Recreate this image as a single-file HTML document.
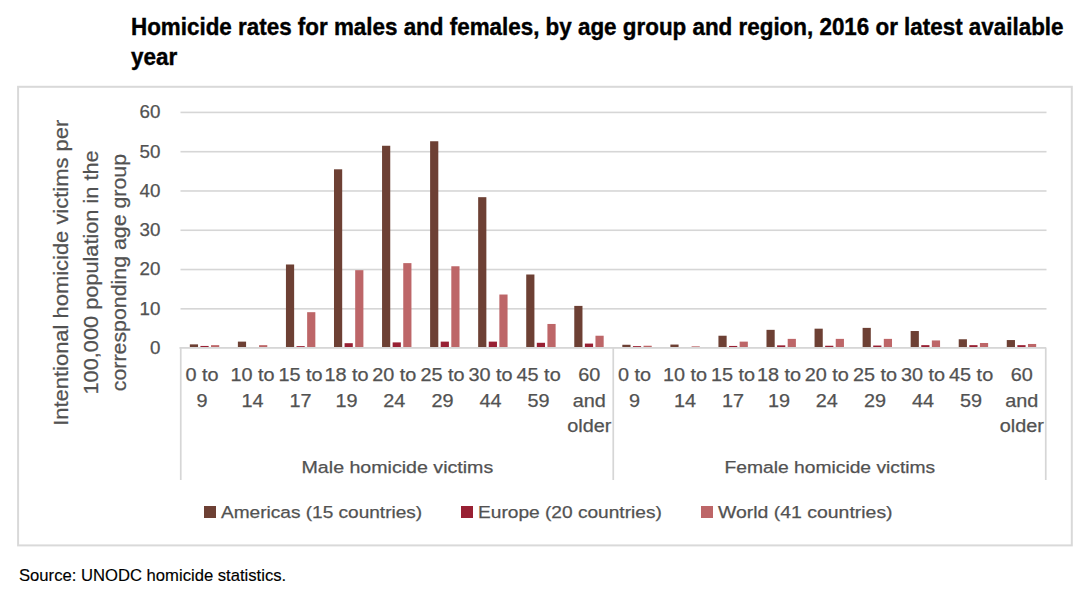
<!DOCTYPE html>
<html><head><meta charset="utf-8"><title>Homicide rates chart</title>
<style>
html,body{margin:0;padding:0;background:#fff;}
body{width:1086px;height:603px;overflow:hidden;position:relative;}
svg{position:absolute;left:0;top:0;}
text{font-family:"Liberation Sans",Arial,sans-serif;}
.ax{font-size:18.3px;fill:#525252;stroke:#525252;stroke-width:0.25px;}
.ttl{font-size:23.2px;font-weight:bold;fill:#000;stroke:#000;stroke-width:0.4px;}
.tk{font-size:18.8px;}
.lg{font-size:17.4px;fill:#525252;stroke:#525252;stroke-width:0.25px;}
.yt{font-size:20.5px;fill:#525252;stroke:#525252;stroke-width:0.25px;}
.src{font-size:17px;fill:#000;stroke:#000;stroke-width:0.15px;}
</style></head><body>
<svg width="1086" height="603" viewBox="0 0 1086 603">
<rect x="0" y="0" width="1086" height="603" fill="#fff"/>
<text class="ttl" x="131" y="35.1" textLength="932.5" lengthAdjust="spacingAndGlyphs">Homicide rates for males and females, by age group and region, 2016 or latest available</text>
<text class="ttl" x="131" y="65.3" textLength="46.2" lengthAdjust="spacingAndGlyphs">year</text>
<rect x="18.1" y="86.8" width="1053.7" height="458.6" fill="none" stroke="#d9d9d9" stroke-width="2"/>
<rect x="180.50" y="308.02" width="866.00" height="1.6" fill="#d6d6d6"/>
<rect x="180.50" y="268.74" width="866.00" height="1.6" fill="#d6d6d6"/>
<rect x="180.50" y="229.46" width="866.00" height="1.6" fill="#d6d6d6"/>
<rect x="180.50" y="190.18" width="866.00" height="1.6" fill="#d6d6d6"/>
<rect x="180.50" y="150.90" width="866.00" height="1.6" fill="#d6d6d6"/>
<rect x="180.50" y="111.62" width="866.00" height="1.6" fill="#d6d6d6"/>
<rect x="189.83" y="344.37" width="8.2" height="3.53" fill="#6d4034"/>
<rect x="200.43" y="345.94" width="8.2" height="1.96" fill="#982033"/>
<rect x="211.03" y="345.15" width="8.2" height="2.75" fill="#bd6668"/>
<rect x="237.88" y="341.62" width="8.2" height="6.28" fill="#6d4034"/>
<rect x="259.08" y="345.15" width="8.2" height="2.75" fill="#bd6668"/>
<rect x="285.94" y="264.49" width="8.2" height="83.41" fill="#6d4034"/>
<rect x="296.54" y="346.13" width="8.2" height="1.77" fill="#982033"/>
<rect x="307.14" y="312.18" width="8.2" height="35.72" fill="#bd6668"/>
<rect x="333.99" y="169.31" width="8.2" height="178.59" fill="#6d4034"/>
<rect x="344.59" y="343.19" width="8.2" height="4.71" fill="#982033"/>
<rect x="355.19" y="270.18" width="8.2" height="77.72" fill="#bd6668"/>
<rect x="382.05" y="145.76" width="8.2" height="202.14" fill="#6d4034"/>
<rect x="392.65" y="342.40" width="8.2" height="5.49" fill="#982033"/>
<rect x="403.25" y="263.12" width="8.2" height="84.78" fill="#bd6668"/>
<rect x="430.11" y="141.25" width="8.2" height="206.65" fill="#6d4034"/>
<rect x="440.71" y="341.62" width="8.2" height="6.28" fill="#982033"/>
<rect x="451.31" y="266.26" width="8.2" height="81.64" fill="#bd6668"/>
<rect x="478.16" y="197.18" width="8.2" height="150.72" fill="#6d4034"/>
<rect x="488.76" y="341.62" width="8.2" height="6.28" fill="#982033"/>
<rect x="499.36" y="294.52" width="8.2" height="53.38" fill="#bd6668"/>
<rect x="526.22" y="274.50" width="8.2" height="73.40" fill="#6d4034"/>
<rect x="536.82" y="342.80" width="8.2" height="5.10" fill="#982033"/>
<rect x="547.42" y="323.96" width="8.2" height="23.94" fill="#bd6668"/>
<rect x="574.27" y="305.90" width="8.2" height="42.00" fill="#6d4034"/>
<rect x="584.87" y="343.58" width="8.2" height="4.32" fill="#982033"/>
<rect x="595.47" y="335.73" width="8.2" height="12.17" fill="#bd6668"/>
<rect x="622.33" y="344.76" width="8.2" height="3.14" fill="#6d4034"/>
<rect x="632.93" y="346.13" width="8.2" height="1.77" fill="#982033"/>
<rect x="643.53" y="345.74" width="8.2" height="2.16" fill="#bd6668"/>
<rect x="670.38" y="344.56" width="8.2" height="3.34" fill="#6d4034"/>
<rect x="691.58" y="346.33" width="8.2" height="1.57" fill="#bd6668"/>
<rect x="718.44" y="335.73" width="8.2" height="12.17" fill="#6d4034"/>
<rect x="729.04" y="345.94" width="8.2" height="1.96" fill="#982033"/>
<rect x="739.64" y="341.62" width="8.2" height="6.28" fill="#bd6668"/>
<rect x="766.49" y="329.84" width="8.2" height="18.05" fill="#6d4034"/>
<rect x="777.09" y="345.35" width="8.2" height="2.55" fill="#982033"/>
<rect x="787.69" y="338.87" width="8.2" height="9.03" fill="#bd6668"/>
<rect x="814.55" y="328.67" width="8.2" height="19.23" fill="#6d4034"/>
<rect x="825.15" y="345.74" width="8.2" height="2.16" fill="#982033"/>
<rect x="835.75" y="338.87" width="8.2" height="9.03" fill="#bd6668"/>
<rect x="862.61" y="327.88" width="8.2" height="20.02" fill="#6d4034"/>
<rect x="873.21" y="345.54" width="8.2" height="2.35" fill="#982033"/>
<rect x="883.81" y="338.87" width="8.2" height="9.03" fill="#bd6668"/>
<rect x="910.66" y="331.02" width="8.2" height="16.88" fill="#6d4034"/>
<rect x="921.26" y="345.15" width="8.2" height="2.75" fill="#982033"/>
<rect x="931.86" y="340.44" width="8.2" height="7.46" fill="#bd6668"/>
<rect x="958.72" y="339.26" width="8.2" height="8.63" fill="#6d4034"/>
<rect x="969.32" y="345.15" width="8.2" height="2.75" fill="#982033"/>
<rect x="979.92" y="342.99" width="8.2" height="4.91" fill="#bd6668"/>
<rect x="1006.77" y="340.05" width="8.2" height="7.85" fill="#6d4034"/>
<rect x="1017.37" y="345.15" width="8.2" height="2.75" fill="#982033"/>
<rect x="1027.97" y="343.97" width="8.2" height="3.92" fill="#bd6668"/>
<rect x="179.50" y="347.00" width="866.50" height="1.8" fill="#d6d6d6"/>
<rect x="179.90" y="347.50" width="1.7" height="132.50" fill="#d6d6d6"/>
<rect x="612.40" y="347.50" width="1.7" height="132.50" fill="#d6d6d6"/>
<rect x="1044.90" y="347.50" width="1.7" height="132.50" fill="#d6d6d6"/>
<text x="160.4" y="354.05" text-anchor="end" class="ax tk">0</text>
<text x="160.4" y="314.77" text-anchor="end" class="ax tk">10</text>
<text x="160.4" y="275.49" text-anchor="end" class="ax tk">20</text>
<text x="160.4" y="236.21" text-anchor="end" class="ax tk">30</text>
<text x="160.4" y="196.93" text-anchor="end" class="ax tk">40</text>
<text x="160.4" y="157.65" text-anchor="end" class="ax tk">50</text>
<text x="160.4" y="118.37" text-anchor="end" class="ax tk">60</text>
<text x="202.03" y="380.80" text-anchor="middle" class="ax" textLength="33.09" lengthAdjust="spacingAndGlyphs">0 to</text>
<text x="202.03" y="406.50" text-anchor="middle" class="ax" textLength="11.04" lengthAdjust="spacingAndGlyphs">9</text>
<text x="252.58" y="380.80" text-anchor="middle" class="ax" textLength="44.13" lengthAdjust="spacingAndGlyphs">10 to</text>
<text x="252.58" y="406.50" text-anchor="middle" class="ax" textLength="22.07" lengthAdjust="spacingAndGlyphs">14</text>
<text x="300.44" y="380.80" text-anchor="middle" class="ax" textLength="44.13" lengthAdjust="spacingAndGlyphs">15 to</text>
<text x="300.44" y="406.50" text-anchor="middle" class="ax" textLength="22.07" lengthAdjust="spacingAndGlyphs">17</text>
<text x="346.49" y="380.80" text-anchor="middle" class="ax" textLength="44.13" lengthAdjust="spacingAndGlyphs">18 to</text>
<text x="346.49" y="406.50" text-anchor="middle" class="ax" textLength="22.07" lengthAdjust="spacingAndGlyphs">19</text>
<text x="394.35" y="380.80" text-anchor="middle" class="ax" textLength="44.13" lengthAdjust="spacingAndGlyphs">20 to</text>
<text x="394.35" y="406.50" text-anchor="middle" class="ax" textLength="22.07" lengthAdjust="spacingAndGlyphs">24</text>
<text x="442.61" y="380.80" text-anchor="middle" class="ax" textLength="44.13" lengthAdjust="spacingAndGlyphs">25 to</text>
<text x="442.61" y="406.50" text-anchor="middle" class="ax" textLength="22.07" lengthAdjust="spacingAndGlyphs">29</text>
<text x="490.56" y="380.80" text-anchor="middle" class="ax" textLength="44.13" lengthAdjust="spacingAndGlyphs">30 to</text>
<text x="490.56" y="406.50" text-anchor="middle" class="ax" textLength="22.07" lengthAdjust="spacingAndGlyphs">44</text>
<text x="538.62" y="380.80" text-anchor="middle" class="ax" textLength="44.13" lengthAdjust="spacingAndGlyphs">45 to</text>
<text x="538.62" y="406.50" text-anchor="middle" class="ax" textLength="22.07" lengthAdjust="spacingAndGlyphs">59</text>
<text x="589.27" y="380.80" text-anchor="middle" class="ax" textLength="22.07" lengthAdjust="spacingAndGlyphs">60</text>
<text x="589.27" y="406.50" text-anchor="middle" class="ax" textLength="33.11" lengthAdjust="spacingAndGlyphs">and</text>
<text x="589.27" y="432.20" text-anchor="middle" class="ax" textLength="44.11" lengthAdjust="spacingAndGlyphs">older</text>
<text x="634.53" y="380.80" text-anchor="middle" class="ax" textLength="33.09" lengthAdjust="spacingAndGlyphs">0 to</text>
<text x="634.53" y="406.50" text-anchor="middle" class="ax" textLength="11.04" lengthAdjust="spacingAndGlyphs">9</text>
<text x="685.08" y="380.80" text-anchor="middle" class="ax" textLength="44.13" lengthAdjust="spacingAndGlyphs">10 to</text>
<text x="685.08" y="406.50" text-anchor="middle" class="ax" textLength="22.07" lengthAdjust="spacingAndGlyphs">14</text>
<text x="732.94" y="380.80" text-anchor="middle" class="ax" textLength="44.13" lengthAdjust="spacingAndGlyphs">15 to</text>
<text x="732.94" y="406.50" text-anchor="middle" class="ax" textLength="22.07" lengthAdjust="spacingAndGlyphs">17</text>
<text x="778.99" y="380.80" text-anchor="middle" class="ax" textLength="44.13" lengthAdjust="spacingAndGlyphs">18 to</text>
<text x="778.99" y="406.50" text-anchor="middle" class="ax" textLength="22.07" lengthAdjust="spacingAndGlyphs">19</text>
<text x="826.85" y="380.80" text-anchor="middle" class="ax" textLength="44.13" lengthAdjust="spacingAndGlyphs">20 to</text>
<text x="826.85" y="406.50" text-anchor="middle" class="ax" textLength="22.07" lengthAdjust="spacingAndGlyphs">24</text>
<text x="875.11" y="380.80" text-anchor="middle" class="ax" textLength="44.13" lengthAdjust="spacingAndGlyphs">25 to</text>
<text x="875.11" y="406.50" text-anchor="middle" class="ax" textLength="22.07" lengthAdjust="spacingAndGlyphs">29</text>
<text x="923.06" y="380.80" text-anchor="middle" class="ax" textLength="44.13" lengthAdjust="spacingAndGlyphs">30 to</text>
<text x="923.06" y="406.50" text-anchor="middle" class="ax" textLength="22.07" lengthAdjust="spacingAndGlyphs">44</text>
<text x="971.12" y="380.80" text-anchor="middle" class="ax" textLength="44.13" lengthAdjust="spacingAndGlyphs">45 to</text>
<text x="971.12" y="406.50" text-anchor="middle" class="ax" textLength="22.07" lengthAdjust="spacingAndGlyphs">59</text>
<text x="1021.77" y="380.80" text-anchor="middle" class="ax" textLength="22.07" lengthAdjust="spacingAndGlyphs">60</text>
<text x="1021.77" y="406.50" text-anchor="middle" class="ax" textLength="33.11" lengthAdjust="spacingAndGlyphs">and</text>
<text x="1021.77" y="432.20" text-anchor="middle" class="ax" textLength="44.11" lengthAdjust="spacingAndGlyphs">older</text>
<text class="lg" x="397.4" y="472.9" text-anchor="middle" textLength="191.7" lengthAdjust="spacingAndGlyphs">Male homicide victims</text>
<text class="lg" x="829.9" y="472.9" text-anchor="middle" textLength="210.6" lengthAdjust="spacingAndGlyphs">Female homicide victims</text>
<rect x="204" y="506" width="12" height="12" fill="#6d4034"/>
<text class="lg" x="221" y="518" textLength="201.2" lengthAdjust="spacingAndGlyphs">Americas (15 countries)</text>
<rect x="461" y="506" width="12" height="12" fill="#982033"/>
<text class="lg" x="478" y="518" textLength="183.85" lengthAdjust="spacingAndGlyphs">Europe (20 countries)</text>
<rect x="701" y="506" width="12" height="12" fill="#bd6668"/>
<text class="lg" x="718" y="518" textLength="174.6" lengthAdjust="spacingAndGlyphs">World (41 countries)</text>
<g transform="rotate(-90)">
<text class="yt" x="-272.8" y="68.4" text-anchor="middle" textLength="306" lengthAdjust="spacingAndGlyphs">Intentional homicide victims per</text>
<text class="yt" x="-272.4" y="98" text-anchor="middle" textLength="244.2" lengthAdjust="spacingAndGlyphs">100,000 population in the</text>
<text class="yt" x="-272.6" y="125.8" text-anchor="middle" textLength="237.2" lengthAdjust="spacingAndGlyphs">corresponding age group</text>
</g>
<text class="src" x="19" y="580.9" textLength="267.2" lengthAdjust="spacingAndGlyphs">Source: UNODC homicide statistics.</text>
</svg>
</body></html>
